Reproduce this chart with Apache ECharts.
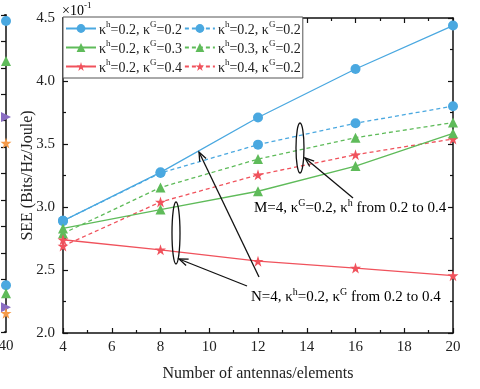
<!DOCTYPE html>
<html>
<head>
<meta charset="utf-8">
<script src="https://cdn.jsdelivr.net/npm/echarts@6/dist/echarts.min.js"></script>
<style>
  html, body { margin: 0; padding: 0; background: #fff; }
  #container { width: 480px; height: 389px; }
</style>
</head>
<body>
<div id="container"></div>
<script>
// x: number of antennas/elements
var antennas = [4, 8, 12, 16, 20];
// solid: N=4, kh=0.2, kG from 0.2 to 0.4
var solidBlue = [2.89, 3.275, 3.71, 4.095, 4.44];
var solidGreen = [2.83, 2.98, 3.125, 3.325, 3.585];
var solidRed = [2.74, 2.66, 2.57, 2.515, 2.455];
// dashed: M=4, kG=0.2, kh from 0.2 to 0.4
var dashBlue = [2.89, 3.27, 3.495, 3.665, 3.8];
var dashGreen = [2.79, 3.155, 3.38, 3.55, 3.67];
var dashRed = [2.69, 3.04, 3.255, 3.415, 3.54];

var seriesNames = ["s1", "d1", "s2", "d2", "s3", "d3"];
var legendKh = ["0.2", "0.2", "0.2", "0.3", "0.2", "0.4"];
var legendKg = ["0.2", "0.2", "0.3", "0.2", "0.4", "0.2"];

// neighbouring figure, only its right edge is visible
var leftX = [40];
var leftUpper = [11.77, 10.26, 8.14, 7.15];
var leftLower = [1.77, 1.47, 0.94, 0.71];

var BLUE = "#4aa8e0", GREEN = "#5fbb5a", RED = "#f0525c", PURPLE = "#8a6cc2", ORANGE = "#f59a48";
var FONT = "Liberation Serif";
var STAR = "path://M50,0 L61.8,35.6 L99,35.6 L69,57.6 L80.3,93.3 L50,71.3 L19.7,93.3 L31,57.6 L1,35.6 L38.2,35.6 Z";

function pairs(arr) {
  return antennas.map(function (x, i) { return [x, arr[i]]; });
}

var dom = document.getElementById("container");
var myChart = echarts.init(dom, null, { renderer: "canvas" });

var richK = {
  k: { fontFamily: FONT, fontSize: 14, lineHeight: 17, color: "#222", verticalAlign: "bottom" },
  s: { fontFamily: FONT, fontSize: 9, lineHeight: 9, color: "#222", verticalAlign: "top" }
};

function mkLine(name, data, color, symbol, size, dashed) {
  return {
    name: name,
    type: "line",
    data: pairs(data),
    symbol: symbol,
    symbolSize: size,
    showSymbol: true,
    color: color,
    lineStyle: { color: color, width: 1.3, type: dashed ? [4, 3] : "solid" },
    itemStyle: { color: color },
    emphasis: { disabled: true },
    z: dashed ? 2 : 3
  };
}

function mkLeft(val, color, symbol, rotate) {
  return {
    type: "line",
    xAxisIndex: 2,
    yAxisIndex: 2,
    data: leftX.map(function (x) { return [x, val]; }),
    symbol: symbol,
    symbolSize: symbol === STAR ? 11 : 10,
    symbolRotate: rotate || 0,
    clip: false,
    itemStyle: { color: color },
    lineStyle: { color: color },
    emphasis: { disabled: true }
  };
}

var axisLine = { show: true, onZero: false, lineStyle: { color: "#111", width: 1.5 } };
var tickIn = { show: true, inside: true, length: 5, lineStyle: { color: "#111", width: 1.2 } };
var minorIn = { show: true, splitNumber: 2, length: 3, lineStyle: { color: "#111", width: 1.2 } };
var labelStyle = { fontFamily: FONT, fontSize: 15, color: "#222" };

var option = {
  animation: false,
  backgroundColor: "#fff",
  grid: [
    { left: 63, right: 27, top: 18, bottom: 56 },
    { left: 0, width: 6, top: 15, bottom: 57 }
  ],
  xAxis: [
    {
      type: "value", gridIndex: 0, min: 4, max: 20, interval: 2, position: "bottom",
      name: "Number of antennas/elements", nameLocation: "middle", nameGap: 33, nameMoveOverlap: false,
      nameTextStyle: { fontFamily: FONT, fontSize: 16, color: "#222" },
      axisLine: axisLine, axisTick: tickIn, minorTick: minorIn,
      axisLabel: Object.assign({ margin: 7 }, labelStyle),
      splitLine: { show: false }
    },
    {
      type: "value", gridIndex: 0, min: 4, max: 20, interval: 2, position: "top",
      axisLine: axisLine, axisTick: tickIn, minorTick: minorIn,
      axisLabel: { show: false }, splitLine: { show: false }
    },
    {
      type: "value", gridIndex: 1, min: 39, max: 40, interval: 1, position: "bottom",
      axisLine: axisLine, axisTick: { show: false },
      axisLabel: Object.assign({ margin: 7, showMinLabel: false }, labelStyle),
      splitLine: { show: false }
    },
    {
      type: "value", gridIndex: 1, min: 39, max: 40, interval: 1, position: "top",
      axisLine: axisLine, axisTick: { show: false },
      axisLabel: { show: false }, splitLine: { show: false }
    }
  ],
  yAxis: [
    {
      type: "value", gridIndex: 0, min: 2.0, max: 4.5, interval: 0.5, position: "left",
      name: "SEE (Bits/Hz/Joule)", nameLocation: "middle", nameGap: 27, nameMoveOverlap: false,
      nameTextStyle: { fontFamily: FONT, fontSize: 16, color: "#222" },
      axisLine: axisLine, axisTick: tickIn, minorTick: minorIn,
      axisLabel: Object.assign({ margin: 8, formatter: function (v) { return v.toFixed(1); } }, labelStyle),
      splitLine: { show: false }
    },
    {
      type: "value", gridIndex: 0, min: 2.0, max: 4.5, interval: 0.5, position: "right",
      axisLine: axisLine, axisTick: tickIn, minorTick: minorIn,
      axisLabel: { show: false }, splitLine: { show: false }
    },
    {
      type: "value", gridIndex: 1, min: 0, max: 12, interval: 1, position: "right",
      axisLine: axisLine, axisTick: tickIn,
      axisLabel: { show: false }, splitLine: { show: false }
    }
  ],
  legend: {
    data: seriesNames,
    left: 63, top: 17, width: 236,
    itemWidth: 30, itemHeight: 11, itemGap: 2,
    padding: [3, 2, 3, 2],
    backgroundColor: "#fff", borderColor: "#555", borderWidth: 1, borderRadius: 0,
    selectedMode: false,
    formatter: function (name) {
      var i = seriesNames.indexOf(name);
      return "{k|κ}{s|h}{k|=" + legendKh[i] + ", κ}{s|G}{k|=" + legendKg[i] + "}";
    },
    textStyle: { padding: [0, 0, 0, -2], rich: richK }
  },
  series: [
    mkLine("d1", dashBlue, BLUE, "circle", 10, true),
    mkLine("d2", dashGreen, GREEN, "triangle", 10, true),
    mkLine("d3", dashRed, RED, STAR, 11, true),
    mkLine("s1", solidBlue, BLUE, "circle", 10, false),
    mkLine("s2", solidGreen, GREEN, "triangle", 10, false),
    mkLine("s3", solidRed, RED, STAR, 11, false),
    mkLeft(leftUpper[0], BLUE, "circle"),
    mkLeft(leftUpper[1], GREEN, "triangle"),
    mkLeft(leftUpper[2], PURPLE, "triangle", -90),
    mkLeft(leftUpper[3], ORANGE, STAR),
    mkLeft(leftLower[0], BLUE, "circle"),
    mkLeft(leftLower[1], GREEN, "triangle"),
    mkLeft(leftLower[2], PURPLE, "triangle", -90),
    mkLeft(leftLower[3], ORANGE, STAR)
  ]
};

myChart.setOption(option);

// annotations: ellipses, arrows, text
function arrow(x1, y1, x2, y2) {
  var a = Math.atan2(y2 - y1, x2 - x1), L = 9, W = 3.5;
  var bx = x2 - L * Math.cos(a), by = y2 - L * Math.sin(a);
  var px = -Math.sin(a) * W, py = Math.cos(a) * W;
  return [
    { type: "line", shape: { x1: x1, y1: y1, x2: x2, y2: y2 }, style: { stroke: "#111", lineWidth: 1.3 }, z: 10 },
    { type: "polyline", shape: { points: [[bx + px, by + py], [x2, y2], [bx - px, by - py]] }, style: { stroke: "#111", lineWidth: 1.3, fill: null }, z: 10 }
  ];
}
var richT = {
  k: { fontFamily: FONT, fontSize: 15, lineHeight: 18, color: "#222", verticalAlign: "bottom" },
  s: { fontFamily: FONT, fontSize: 10, lineHeight: 10, color: "#222", verticalAlign: "top" }
};
var graphics = [
  { type: "ellipse", shape: { cx: 300, cy: 148, rx: 4, ry: 25 }, style: { fill: null, stroke: "#111", lineWidth: 1.3 }, z: 10 },
  { type: "ellipse", shape: { cx: 176, cy: 233, rx: 4, ry: 31 }, style: { fill: null, stroke: "#111", lineWidth: 1.3 }, z: 10 },
  { type: "text", x: 254, y: 207, z: 10,
    style: { text: "{k|M=4, κ}{s|G}{k|=0.2, κ}{s|h}{k| from 0.2 to 0.4}", rich: richT, verticalAlign: "middle" } },
  { type: "text", x: 251, y: 296, z: 10,
    style: { text: "{k|N=4, κ}{s|h}{k|=0.2, κ}{s|G}{k| from 0.2 to 0.4}", rich: richT, verticalAlign: "middle" } },
  { type: "text", x: 62, y: 1, z: 10,
    style: { text: "{k|×10}{s|-1}", rich: {
      k: { fontFamily: FONT, fontSize: 14, lineHeight: 17, color: "#222", verticalAlign: "bottom" },
      s: { fontFamily: FONT, fontSize: 9, lineHeight: 9, color: "#222", verticalAlign: "top" } } } }
].concat(arrow(353, 198, 305, 158), arrow(247, 286, 179, 259), arrow(259, 277, 199, 152));

myChart.setOption({ graphic: graphics });
window.addEventListener("resize", myChart.resize);
</script>
</body>
</html>
